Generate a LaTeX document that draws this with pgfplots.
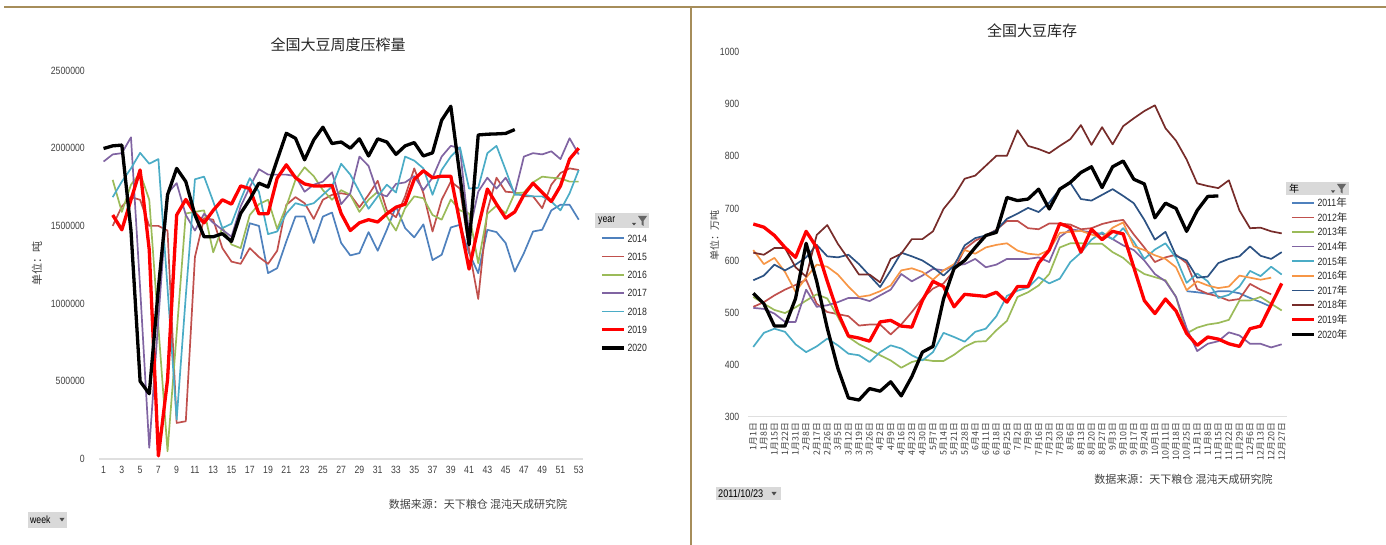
\documentclass[border=0pt]{standalone}
\usepackage{fontspec}
\setmainfont{Liberation Sans}
\newfontfamily\narrow[FakeStretch=0.83]{Liberation Sans}
\newfontfamily\cjk{Noto Sans CJK SC}
\usepackage{pgfplots}
\pgfplotsset{compat=1.18}

\definecolor{cblue}{HTML}{4F81BD}
\definecolor{cred}{HTML}{C0504D}
\definecolor{cgreen}{HTML}{9BBB59}
\definecolor{cpurple}{HTML}{8064A2}
\definecolor{ccyan}{HTML}{4BACC6}
\definecolor{corange}{HTML}{F79646}
\definecolor{cnavy}{HTML}{2C5283}
\definecolor{cmaroon}{HTML}{772C2A}
\definecolor{gold}{HTML}{A68D5A}
\definecolor{txt}{HTML}{404040}

\newcommand{\tickfont}{\narrow\fontsize{10.5}{10.5}\selectfont}

\pgfplotsset{
  excel/.style={
    scale only axis, axis lines*=left, axis line style={-},
    x axis line style={draw=gray!25, line width=1.3pt},
    y axis line style={draw=none},
    tick style={draw=none}, major tick length=0pt,
    ticklabel style={font=\tickfont, text=txt, inner sep=0pt},
    /pgf/number format/assume math mode=true,
    /pgf/number format/1000 sep={},
    clip=false, legend cell align=left,
    legend image code/.code={\draw[##1] (0pt,0pt) -- (22pt,0pt);},
  },
  sl/.style={line width=1.7pt, line join=round},
  hl/.style={line width=3.3pt, line join=round},
}

\begin{document}
\begin{tikzpicture}
\path[use as bounding box] (0,0) rectangle (1386pt,545pt);

% frame lines
\draw[gold, line width=2pt] (4pt,537.5pt) -- (1386pt,537.5pt);
\draw[gold, line width=2pt] (690.5pt,537.5pt) -- (690.5pt,0pt);

% ---------------- left: weekly crush ----------------
\begin{axis}[excel,
  at={(99pt,86pt)}, anchor=south west,
  width=484.3pt, height=388.5pt,
  xmin=0.5, xmax=53.5, ymin=0, ymax=2500000,
  xtick={1,3,...,53},
  ytick={0,500000,1000000,1500000,2000000,2500000},
  yticklabels={0,500000,1000000,1500000,2000000,2500000},
  scaled y ticks=false,
  xticklabel shift=7pt, yticklabel shift=14pt,
  legend style={at={(1.0345,0.5786)}, anchor=north west, draw=none, fill=none,
    inner sep=0pt, row sep=10.7pt, column sep=2pt, font=\tickfont, text=black!85,
    nodes={inner sep=0pt, text height=7.6pt, text depth=0pt}},
]
\addplot[sl, cblue] coordinates {(16,1287000)(17,1517000)(18,1500000)(19,1196000)(20,1228000)(21,1400000)(22,1560000)(23,1560000)(24,1390000)(25,1560000)(26,1586000)(27,1390000)(28,1310000)(29,1325000)(30,1460000)(31,1340000)(32,1475000)(33,1625000)(34,1486000)(35,1426000)(36,1510000)(37,1280000)(38,1314000)(39,1490000)(40,1507000)(41,1325000)(42,1196000)(43,1475000)(44,1460000)(45,1390000)(46,1206000)(47,1325000)(48,1464000)(49,1475000)(50,1600000)(51,1636000)(52,1636000)(53,1540000)};
\addlegendentry{2014}
\addplot[sl, cred] coordinates {(2,1500000)(3,1625000)(4,1685000)(5,1668000)(6,1500000)(7,1500000)(8,1470000)(9,232000)(10,243000)(11,1300000)(12,1550000)(13,1540000)(14,1357000)(15,1270000)(16,1256000)(17,1357000)(18,1300000)(19,1256000)(20,1340000)(21,1635000)(22,1685000)(23,1646000)(24,1545000)(25,1668000)(26,1700000)(27,1710000)(28,1700000)(29,1620000)(30,1700000)(31,1790000)(32,1600000)(33,1556000)(34,1690000)(35,1870000)(36,1710000)(37,1464000)(38,1668000)(39,1785000)(40,1740000)(41,1350000)(42,1030000)(43,1600000)(44,1810000)(45,1720000)(46,1715000)(47,1690000)(48,1690000)(49,1614000)(50,1765000)(51,1840000)(52,1870000)(53,1860000)};
\addlegendentry{2015}
\addplot[sl, cgreen] coordinates {(2,1796000)(3,1590000)(4,1765000)(5,1840000)(6,1668000)(7,850000)(8,50000)(9,810000)(10,1580000)(11,1590000)(12,1600000)(13,1330000)(14,1490000)(15,1380000)(16,1357000)(17,1570000)(18,1640000)(19,1668000)(20,1480000)(21,1625000)(22,1796000)(23,1877000)(24,1820000)(25,1730000)(26,1668000)(27,1730000)(28,1700000)(29,1590000)(30,1668000)(31,1720000)(32,1560000)(33,1470000)(34,1614000)(35,1690000)(36,1678000)(37,1570000)(38,1540000)(39,1670000)(40,1600000)(41,1580000)(42,1260000)(43,1578000)(44,1630000)(45,1580000)(46,1710000)(47,1715000)(48,1780000)(49,1817000)(50,1810000)(51,1805000)(52,1785000)(53,1785000)};
\addlegendentry{2016}
\addplot[sl, cpurple] coordinates {(1,1914000)(2,1960000)(3,1968000)(4,2070000)(5,1100000)(6,72000)(7,900000)(8,1710000)(9,1775000)(10,1570000)(11,1470000)(12,1578000)(13,1520000)(14,1475000)(15,1430000)(16,1625000)(17,1750000)(18,1865000)(19,1830000)(20,1830000)(21,1830000)(22,1820000)(23,1720000)(24,1765000)(25,1785000)(26,1845000)(27,1640000)(28,1710000)(29,1946000)(30,1886000)(31,1710000)(32,1690000)(33,1770000)(34,1780000)(35,1820000)(36,1730000)(37,1810000)(38,1946000)(39,2015000)(40,2000000)(41,1450000)(42,1720000)(43,1810000)(44,1740000)(45,1810000)(46,1710000)(47,1946000)(48,1968000)(49,1960000)(50,1980000)(51,1930000)(52,2064000)(53,1960000)};
\addlegendentry{2017}
\addplot[sl, ccyan] coordinates {(2,1685000)(3,1785000)(4,1870000)(5,1970000)(6,1900000)(7,1930000)(8,1100000)(9,254000)(10,1050000)(11,1800000)(12,1817000)(13,1657000)(14,1486000)(15,1514000)(16,1668000)(17,1807000)(18,1720000)(19,1447000)(20,1464000)(21,1580000)(22,1646000)(23,1630000)(24,1646000)(25,1700000)(26,1753000)(27,1900000)(28,1830000)(29,1720000)(30,1610000)(31,1690000)(32,1765000)(33,1715000)(34,1946000)(35,1920000)(36,1870000)(37,1700000)(38,1860000)(39,1946000)(40,2006000)(41,1740000)(42,1745000)(43,1968000)(44,2015000)(45,1860000)(46,1700000)(47,1700000)(48,1690000)(49,1690000)(50,1657000)(51,1600000)(52,1710000)(53,1860000)};
\addlegendentry{2018}
\addplot[hl, red] coordinates {(2,1570000)(3,1475000)(4,1668000)(5,1860000)(6,1346000)(7,20000)(8,510000)(9,1570000)(10,1670000)(11,1580000)(12,1520000)(13,1600000)(14,1668000)(15,1640000)(16,1757000)(17,1740000)(18,1578000)(19,1578000)(20,1807000)(21,1893000)(22,1810000)(23,1770000)(24,1757000)(25,1757000)(26,1760000)(27,1580000)(28,1470000)(29,1520000)(30,1540000)(31,1525000)(32,1578000)(33,1620000)(34,1640000)(35,1800000)(36,1855000)(37,1810000)(38,1820000)(39,1820000)(40,1520000)(41,1222000)(42,1490000)(43,1737000)(44,1640000)(45,1550000)(46,1590000)(47,1700000)(48,1775000)(49,1715000)(50,1657000)(51,1757000)(52,1930000)(53,2000000)};
\addlegendentry{2019}
\addplot[hl, black] coordinates {(1,1998000)(2,2015000)(3,2020000)(4,1470000)(5,500000)(6,420000)(7,1100000)(8,1700000)(9,1870000)(10,1785000)(11,1570000)(12,1430000)(13,1430000)(14,1450000)(15,1400000)(16,1580000)(17,1670000)(18,1775000)(19,1750000)(20,1925000)(21,2096000)(22,2064000)(23,1925000)(24,2053000)(25,2135000)(26,2030000)(27,2040000)(28,2000000)(29,2060000)(30,1950000)(31,2060000)(32,2040000)(33,1960000)(34,2015000)(35,2036000)(36,1950000)(37,1970000)(38,2180000)(39,2270000)(40,1820000)(41,1378000)(42,2085000)(43,2090000)(44,2092000)(45,2095000)(46,2120000)};
\addlegendentry{2020}
\end{axis}

% left texts and controls
\node[font=\cjk\fontsize{15}{15}\selectfont, text=black!85] at (338pt,500.5pt) {全国大豆周度压榨量};
\node[font=\cjk\fontsize{11}{11}\selectfont, text=txt, rotate=90] at (37pt,281pt) {单位：吨};
\node[font=\cjk\fontsize{11}{11}\selectfont, text=txt] at (478pt,40.3pt) {数据来源：天下粮仓 混沌天成研究院};
\fill[gray!30] (595pt,316.6pt) rectangle (649pt,332.3pt);
\node[font=\tickfont, text=black, anchor=west, inner sep=0pt] at (598pt,324.5pt) {year};
\fill[black!70] (632pt,322pt) -- (636pt,322pt) -- (634pt,319.5pt) -- cycle;
\fill[black!60] (638pt,329pt) -- (647pt,329pt) -- (643.5pt,324pt) -- (643.5pt,319pt) -- (641.5pt,320.5pt) -- (641.5pt,324pt) -- cycle;
\fill[gray!30] (28pt,17.4pt) rectangle (67pt,33.4pt);
\node[font=\tickfont, text=black, anchor=west, inner sep=0pt] at (30pt,25.4pt) {week};
\fill[black!70] (59.5pt,27pt) -- (64.5pt,27pt) -- (62pt,23.5pt) -- cycle;

% ---------------- right: inventory ----------------
\begin{axis}[excel,
  at={(748pt,128.3pt)}, anchor=south west,
  width=539pt, height=364.5pt,
  xmin=0.5, xmax=51.5, ymin=300, ymax=1000,
  ytick={300,400,...,1000},
  xtick={1,...,51},
  xticklabels={1月1日,1月8日,1月15日,1月22日,1月31日,2月8日,2月17日,2月26日,3月5日,3月12日,3月19日,3月26日,4月2日,4月9日,4月16日,4月23日,4月30日,5月7日,5月14日,5月21日,5月28日,6月4日,6月11日,6月18日,6月25日,7月2日,7月9日,7月16日,7月23日,7月30日,8月6日,8月13日,8月20日,8月27日,9月3日,9月10日,9月17日,9月24日,10月1日,10月11日,10月18日,10月25日,11月1日,11月8日,11月15日,11月22日,11月29日,12月6日,12月13日,12月20日,12月27日},
  xticklabel style={font=\cjk\fontsize{8.8}{8.8}\selectfont, rotate=90, anchor=east},
  xticklabel shift=6pt, yticklabel shift=8.5pt,
  legend style={at={(1.0056,0.5978)}, anchor=north west, draw=none, fill=none,
    inner sep=0pt, row sep=7pt, column sep=2pt, font=\tickfont, text=black!85,
    nodes={inner sep=0pt, text height=7.6pt, text depth=0pt}},
]
\addplot[sl, cblue] coordinates {(42,541)(43,539)(44,536)(45,541)(46,541)(47,537)(48,528)(49,520)(50,511)};
\addlegendentry{2011{\cjk 年}}
\addplot[sl, cred] coordinates {(1,511)(2,520)(3,533)(4,544)(5,553)(6,563)(7,517)(8,501)(9,497)(10,493)(11,475)(12,477)(13,477)(14,458)(15,477)(16,501)(17,527)(18,546)(19,556)(20,581)(21,622)(22,638)(23,648)(24,659)(25,676)(26,676)(27,662)(28,660)(29,671)(30,671)(31,669)(32,660)(33,662)(34,670)(35,675)(36,678)(37,650)(38,625)(39,597)(40,606)(41,611)(42,595)(43,545)(44,536)(45,531)(46,523)(47,526)(48,555)(49,544)(50,535)};
\addlegendentry{2012{\cjk 年}}
\addplot[sl, cgreen] coordinates {(1,530)(2,517)(3,505)(4,499)(5,510)(6,523)(7,535)(8,527)(9,492)(10,453)(11,439)(12,429)(13,418)(14,408)(15,394)(16,405)(17,410)(18,407)(19,407)(20,419)(21,434)(22,444)(23,445)(24,466)(25,484)(26,530)(27,539)(28,552)(29,574)(30,625)(31,633)(32,633)(33,632)(34,632)(35,616)(36,605)(37,587)(38,574)(39,568)(40,562)(41,530)(42,460)(43,471)(44,477)(45,480)(46,486)(47,523)(48,523)(49,530)(50,517)(51,504)};
\addlegendentry{2013{\cjk 年}}
\addplot[sl, cpurple] coordinates {(1,509)(2,507)(3,498)(4,482)(5,482)(6,544)(7,511)(8,514)(9,520)(10,528)(11,528)(12,522)(13,533)(14,544)(15,574)(16,560)(17,571)(18,584)(19,581)(20,590)(21,593)(22,603)(23,587)(24,592)(25,603)(26,603)(27,603)(28,606)(29,597)(30,645)(31,660)(32,657)(33,654)(34,651)(35,641)(36,629)(37,620)(38,600)(39,574)(40,560)(41,530)(42,470)(43,426)(44,440)(45,445)(46,462)(47,456)(48,440)(49,440)(50,433)(51,439)};
\addlegendentry{2014{\cjk 年}}
\addplot[sl, ccyan] coordinates {(1,434)(2,461)(3,469)(4,463)(5,439)(6,424)(7,435)(8,450)(9,437)(10,421)(11,418)(12,405)(13,424)(14,437)(15,431)(16,418)(17,408)(18,424)(19,461)(20,453)(21,444)(22,463)(23,469)(24,493)(25,532)(26,542)(27,548)(28,568)(29,556)(30,565)(31,597)(32,615)(33,640)(34,654)(35,641)(36,662)(37,636)(38,603)(39,621)(40,633)(41,605)(42,557)(43,575)(44,560)(45,528)(46,534)(47,550)(48,580)(49,570)(50,588)(51,573)};
\addlegendentry{2015{\cjk 年}}
\addplot[sl, corange] coordinates {(1,620)(2,593)(3,605)(4,578)(5,540)(6,567)(7,592)(8,588)(9,573)(10,550)(11,530)(12,533)(13,541)(14,552)(15,581)(16,585)(17,578)(18,563)(19,581)(20,593)(21,620)(22,613)(23,625)(24,630)(25,633)(26,619)(27,613)(28,611)(29,620)(30,653)(31,655)(32,657)(33,650)(34,643)(35,663)(36,673)(37,627)(38,620)(39,610)(40,603)(41,587)(42,543)(43,560)(44,552)(45,547)(46,550)(47,571)(48,567)(49,563)(50,567)};
\addlegendentry{2016{\cjk 年}}
\addplot[sl, cnavy] coordinates {(1,562)(2,571)(3,592)(4,581)(5,592)(6,606)(7,630)(8,608)(9,606)(10,611)(11,593)(12,571)(13,549)(14,581)(15,615)(16,608)(17,600)(18,587)(19,571)(20,590)(21,629)(22,643)(23,648)(24,658)(25,680)(26,690)(27,701)(28,693)(29,711)(30,737)(31,749)(32,718)(33,715)(34,726)(35,737)(36,724)(37,710)(38,678)(39,640)(40,655)(41,609)(42,600)(43,567)(44,569)(45,595)(46,603)(47,608)(48,627)(49,609)(50,603)(51,616)};
\addlegendentry{2017{\cjk 年}}
\addplot[sl, cmaroon] coordinates {(1,615)(2,611)(3,624)(4,624)(5,587)(6,569)(7,649)(8,668)(9,632)(10,603)(11,573)(12,573)(13,558)(14,603)(15,613)(16,641)(17,641)(18,656)(19,699)(20,724)(21,757)(22,763)(23,782)(24,801)(25,801)(26,850)(27,820)(28,814)(29,806)(30,820)(31,833)(32,860)(33,822)(34,856)(35,823)(36,858)(37,873)(38,887)(39,898)(40,854)(41,830)(42,794)(43,748)(44,743)(45,739)(46,754)(47,696)(48,662)(49,663)(50,656)(51,652)};
\addlegendentry{2018{\cjk 年}}
\addplot[hl, red] coordinates {(1,670)(2,664)(3,648)(4,625)(5,606)(6,656)(7,625)(8,560)(9,500)(10,455)(11,451)(12,445)(13,482)(14,485)(15,474)(16,472)(17,523)(18,560)(19,550)(20,511)(21,535)(22,533)(23,531)(24,539)(25,520)(26,550)(27,550)(28,595)(29,620)(30,671)(31,663)(32,616)(33,660)(34,640)(35,656)(36,651)(37,587)(38,523)(39,498)(40,526)(41,503)(42,460)(43,437)(44,453)(45,449)(46,440)(47,435)(48,469)(49,474)(50,515)(51,556)};
\addlegendentry{2019{\cjk 年}}
\addplot[hl, black] coordinates {(1,537)(2,517)(3,474)(4,474)(5,527)(6,633)(7,560)(8,470)(9,393)(10,336)(11,332)(12,354)(13,349)(14,367)(15,340)(16,377)(17,424)(18,435)(19,526)(20,585)(21,600)(22,625)(23,648)(24,654)(25,721)(26,715)(27,718)(28,737)(29,699)(30,737)(31,750)(32,769)(33,780)(34,740)(35,780)(36,791)(37,756)(38,747)(39,682)(40,710)(41,700)(42,656)(43,696)(44,723)(45,724)};
\addlegendentry{2020{\cjk 年}}
\end{axis}

% right texts and controls
\node[font=\cjk\fontsize{15}{15}\selectfont, text=black!85] at (1032pt,514.2pt) {全国大豆库存};
\node[font=\cjk\fontsize{10}{10}\selectfont, text=txt, rotate=90] at (714.5pt,309pt) {单位：万吨};
\node[font=\cjk\fontsize{11}{11}\selectfont, text=txt] at (1183.5pt,65.4pt) {数据来源：天下粮仓 混沌天成研究院};
\fill[gray!30] (1286pt,350pt) rectangle (1349pt,363.3pt);
\node[font=\cjk\fontsize{10}{10}\selectfont, text=black, anchor=west, inner sep=0pt] at (1289pt,356.6pt) {年};
\fill[black!70] (1331pt,354.5pt) -- (1335pt,354.5pt) -- (1333pt,352pt) -- cycle;
\fill[black!60] (1337pt,361pt) -- (1346pt,361pt) -- (1342.5pt,356pt) -- (1342.5pt,351.5pt) -- (1340.5pt,353pt) -- (1340.5pt,356pt) -- cycle;
\fill[gray!30] (716pt,45pt) rectangle (780.6pt,58pt);
\node[font=\narrow\fontsize{11}{11}\selectfont, text=black, anchor=west, inner sep=0pt] at (718pt,51.5pt) {2011/10/23};
\fill[black!70] (771.5pt,53pt) -- (776.5pt,53pt) -- (774pt,49.5pt) -- cycle;
\end{tikzpicture}
\end{document}
